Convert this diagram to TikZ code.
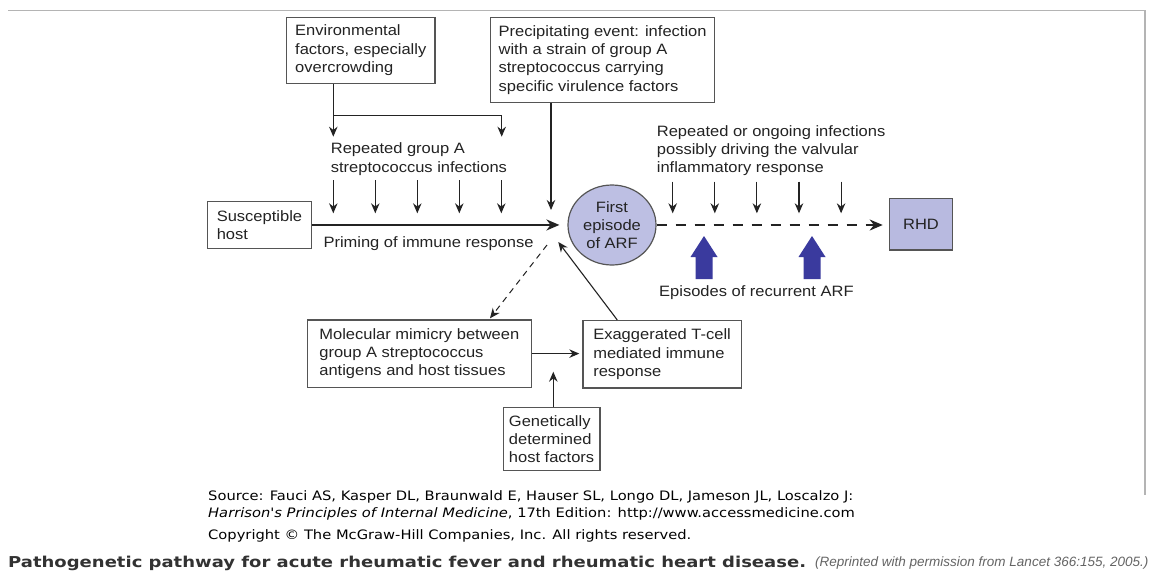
\documentclass[tikz,border=0pt]{standalone}
\usepackage{fontspec}
\setmainfont[FakeStretch=1.1]{Liberation Sans}
\newfontfamily\srcfont[FakeStretch=1.13]{DejaVu Sans}
\newfontfamily\capfont[FakeStretch=1.2]{DejaVu Sans}
\newfontfamily\repfont{Liberation Sans}
\usetikzlibrary{arrows.meta}
\usetikzlibrary{shapes.geometric}
\definecolor{ink}{RGB}{35,35,35}
\definecolor{boxline}{RGB}{85,85,85}
\definecolor{arffill}{RGB}{189,191,227}
\definecolor{rhdfill}{RGB}{184,186,224}
\definecolor{recur}{RGB}{58,58,158}
\definecolor{framegray}{RGB}{180,180,180}
\tikzset{
  box/.style= {draw=boxline, line width=1.2, align=left, inner sep=0, anchor=north west,
    text=ink, font=\fontsize{15}{18.3}\selectfont},
  txt/.style= {align=left, inner sep=0, anchor=west, text=ink, font=\fontsize{15}{18.3}\selectfont},
  arfnode/.style= {ellipse, draw=boxline, line width=1.2, fill=arffill, minimum width=88,
    minimum height=80, inner sep=0, align=center, text=ink, font=\fontsize{15}{18.3}\selectfont},
  rhdbox/.style= {draw=boxline, line width=1.2, fill=rhdfill, minimum width=63.4,
    minimum height=51.7, inner sep=0, text=ink, font=\fontsize{15}{18.3}\selectfont},
  arr/.style= {draw=ink, line width=1.1, -{Stealth[length=10,width=8.5]}},
  mainarr/.style= {draw=ink, line width=2, -{Stealth[length=13,width=11]}},
  dasharr/.style= {draw=ink, line width=2, dash pattern=on 10pt off 9pt, -{Stealth[length=13,width=11]}},
  thindash/.style= {draw=ink, line width=1, dash pattern=on 6pt off 5pt, -{Stealth[length=10,width=8.5]}},
  foot/.style= {inner sep=0, anchor=west},
}

\begin{document}
\begin{tikzpicture}[x=1pt, y=-1pt]
  \useasboundingbox (0,0) rectangle (1152,576) ;
  \fill [white] (0,0) rectangle (1152,576) ;
  \draw [framegray, line width=1.5] (8,10.7) -- (1145,10.7) -- (1145,495) ;

  % boxes
  \node [box, minimum width=148.3, minimum height=66] (env) at (286,16.7) {Environmental\\factors, especially\\overcrowding} ;
  \node [box, minimum width=224, minimum height=85] (precip) at (490,16.7) {Precipitating event: infection\\with a strain of group A\\streptococcus carrying\\specific virulence factors} ;
  \node [box, minimum width=104.3, minimum height=46.7] (susc) at (206.7,201) {Susceptible\\host} ;
  \node [arfnode] (arf) at (612,225) {First\\episode\\of ARF} ;
  \node [rhdbox] (rhd) at (921,224.15) {RHD} ;
  \node [box, minimum width=224, minimum height=67.4] (mimic) at (306.7,319.3) {Molecular mimicry between\\group A streptococcus\\antigens and host tissues} ;
  \node [box, minimum width=158.4, minimum height=67.3] (exag) at (582.3,320) {Exaggerated T-cell\\mediated immune\\response} ;
  \node [box, minimum width=96.6, minimum height=63.3] (genet) at (502.7,406.7) {Genetically\\determined\\host factors} ;

  % labels
  \node [txt] (rep) at (330.7,159) {Repeated group A\\streptococcus infections} ;
  \node [txt] (ongoing) at (656.7,150.7) {Repeated or ongoing infections\\possibly driving the valvular\\inflammatory response} ;
  \node [txt] (priming) at (323.3,243.2) {Priming of immune response} ;
  \node [txt] (episodes) at (659,293) {Episodes of recurrent ARF} ;

  % free ends
  \coordinate (envL) at (333.3,136.7) ;
  \coordinate (envJ) at (333.3,115.7) ;
  \coordinate (envR) at (501.7,136.7) ;
  \coordinate (precipEnd) at (551,210) ;
  \coordinate (mimicStart) at (547,245) ;
  \coordinate (tcellEnd) at (558.3,242) ;
  \coordinate (genTip) at (553.3,371.7) ;

  \draw [arr] (envL |- env.south) -- (envL) ;
  \draw [arr] (envJ) -| (envR) ;
  \foreach \i in {0,...,4} {
    \coordinate (inf\i) at (333.3+42*\i,213.3) ;
    \draw [arr] ([yshift=33.3pt]inf\i) -- (inf\i) ;
    \coordinate (rec\i) at (672.7+42.1*\i,213.3) ;
    \draw [arr] ([yshift=31.6pt]rec\i) -- (rec\i) ;
  }
  \draw [arr] (precipEnd |- precip.south) -- (precipEnd) ;
  \draw [mainarr, shorten >=8pt] (susc.east) -- (susc.east -| arf.west) ;
  \draw [dasharr, shorten >=6pt] (arf.east) -- (arf.east -| rhd.west) ;
  \draw [thindash] (mimicStart) -- ([xshift=183.3pt,yshift=1pt]mimic.north west) ;
  \draw [arr] ([xshift=35pt]exag.north west) -- (tcellEnd) ;
  \draw [arr, shorten >=3pt] (mimic.east) -- (mimic.east -| exag.west) ;
  \draw [arr] (genTip |- genet.north) -- (genTip) ;

  % recurrent episodes
  \foreach \c in {704,812}
    \fill [recur] (\c,236) -- ++(13.5,21) -- ++(-5,0) -- ++(0,22) -- ++(-17,0) -- ++(0,-22) -- ++(-5,0) -- cycle ;

  % source and caption
  \node [foot, font=\srcfont\fontsize{13}{15}\selectfont] (source) at (208,497) {Source: Fauci AS, Kasper DL, Braunwald E, Hauser SL, Longo DL, Jameson JL, Loscalzo J:} ;
  \node [foot, font=\srcfont\fontsize{13}{15}\selectfont] (harrison) at (208,514) {\itshape Harrison's Principles of Internal Medicine\upshape, 17th Edition: http://www.accessmedicine.com} ;
  \node [foot, font=\srcfont\fontsize{13}{15}\selectfont] (copyright) at (208,536) {Copyright © The McGraw-Hill Companies, Inc. All rights reserved.} ;
  \node [foot, font=\capfont\bfseries\fontsize{15}{17}\selectfont, text={rgb,255:red,50;green,50;blue,50}] (caption) at (8,563) {Pathogenetic pathway for acute rheumatic fever and rheumatic heart disease.} ;
  \node [foot, font=\repfont\itshape\fontsize{13.5}{16}\selectfont, text={rgb,255:red,100;green,100;blue,100}] (reprint) at (815,563) {(Reprinted with permission from Lancet 366:155, 2005.)} ;
\end{tikzpicture}
\end{document}
